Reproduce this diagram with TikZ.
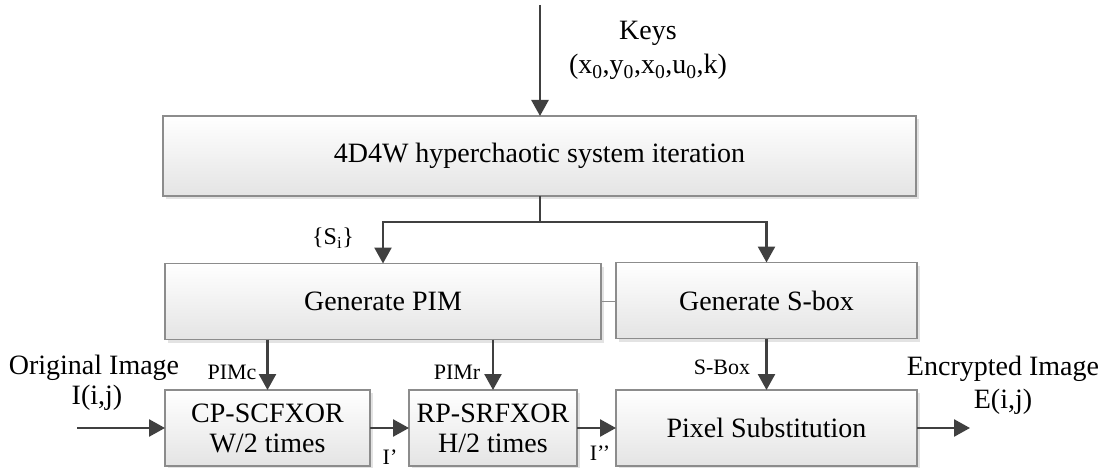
\documentclass[tikz,border=0pt]{standalone}
\usepackage{fontspec}
\setmainfont{Liberation Serif}
\usetikzlibrary{arrows.meta,shadows}
\definecolor{arrowgray}{HTML}{404040}
\definecolor{edgegray}{HTML}{8C8C8C}
\definecolor{shadegray}{HTML}{E4E4E4}
\newcommand\bigtxt{\fontsize{28}{30}\selectfont}
\newcommand\smalltxt{\fontsize{22}{24}\selectfont}
\begin{document}
\begin{tikzpicture}[x=1pt, y=-1pt,
  blk/.style={draw=edgegray, line width=1.3pt, top color=white, bottom color=shadegray,
    inner sep=0pt, outer sep=0pt, align=center, font=\bigtxt,
    drop shadow={shadow xshift=3pt, shadow yshift=-3pt, fill=gray!22, opacity=1}},
  arr/.style={draw=arrowgray, line width=2.6pt, -{Triangle[length=16pt,width=17pt]}},
  ln/.style={draw=arrowgray, line width=2.6pt},
  thin/.style={draw=edgegray, line width=1.3pt},
  lbl/.style={inner sep=0pt, font=\bigtxt},
  slbl/.style={inner sep=0pt, font=\smalltxt}]
\useasboundingbox (0,0) rectangle (1101,468);

% processing blocks
\node[blk, minimum width=753pt, minimum height=80pt] (sys) at (539.5,156) {4D4W hyperchaotic system iteration};
\node[blk, minimum width=436pt, minimum height=76pt] (pim) at (383,301.5) {Generate PIM};
\node[blk, minimum width=301pt, minimum height=76pt] (sbox) at (766.5,300.5) {Generate S-box};
\node[blk, minimum width=205pt, minimum height=76pt] (cp) at (267.5,428) {CP-SCFXOR\\W/2 times};
\node[blk, minimum width=168pt, minimum height=76pt] (rp) at (493,428) {RP-SRFXOR\\H/2 times};
\node[blk, minimum width=301pt, minimum height=76pt] (ps) at (766.5,428) {Pixel Substitution};

% free ends and branch point
\coordinate (keyin) at (540,5);
\coordinate (split) at (540,222);
\coordinate (imgin) at (77,428);
\coordinate (imgout) at (970,428);

% texts
\node[lbl] (keys) at (648,33) {Keys};
\node[lbl] (keyvals) at (648,67) {(x\textsubscript{0},y\textsubscript{0},x\textsubscript{0},u\textsubscript{0},k)};
\node[inner sep=0pt, font=\fontsize{24}{26}\selectfont] (seq) at (333,238) {\{S\textsubscript{i}\}};
\node[slbl] (pimc) at (232,372) {PIMc};
\node[slbl] (pimr) at (457,372) {PIMr};
\node[slbl] (sboxl) at (722,367) {S-Box};
\node[slbl] (i1) at (390,457) {I’};
\node[slbl] (i2) at (600,453) {I’’};
\node[lbl] (orig) at (94,368) {Original Image};
\node[lbl] (origij) at (97,398) {I(i,j)};
\node[lbl] (enc) at (1003,369) {Encrypted Image};
\node[lbl] (encij) at (1003,402) {E(i,j)};

% connectors
\draw[arr] (keyin) -- (keyin |- sys.north);
\draw[ln] (split |- sys.south) -- (split);
\draw[arr] (split) -| (pim.north);
\draw[arr] (split) -| (sbox.north);
\draw[thin] (pim.east) -- (sbox.west |- pim.east);
\draw[arr] (cp.north |- pim.south) -- (cp.north);
\draw[arr] (rp.north |- pim.south) -- (rp.north);
\draw[arr] (sbox.south) -- (ps.north);
\draw[arr] (imgin) -- (cp.west);
\draw[arr] (cp.east) -- (rp.west);
\draw[arr] (rp.east) -- (ps.west);
\draw[arr] (ps.east) -- (imgout);
\end{tikzpicture}
\end{document}
